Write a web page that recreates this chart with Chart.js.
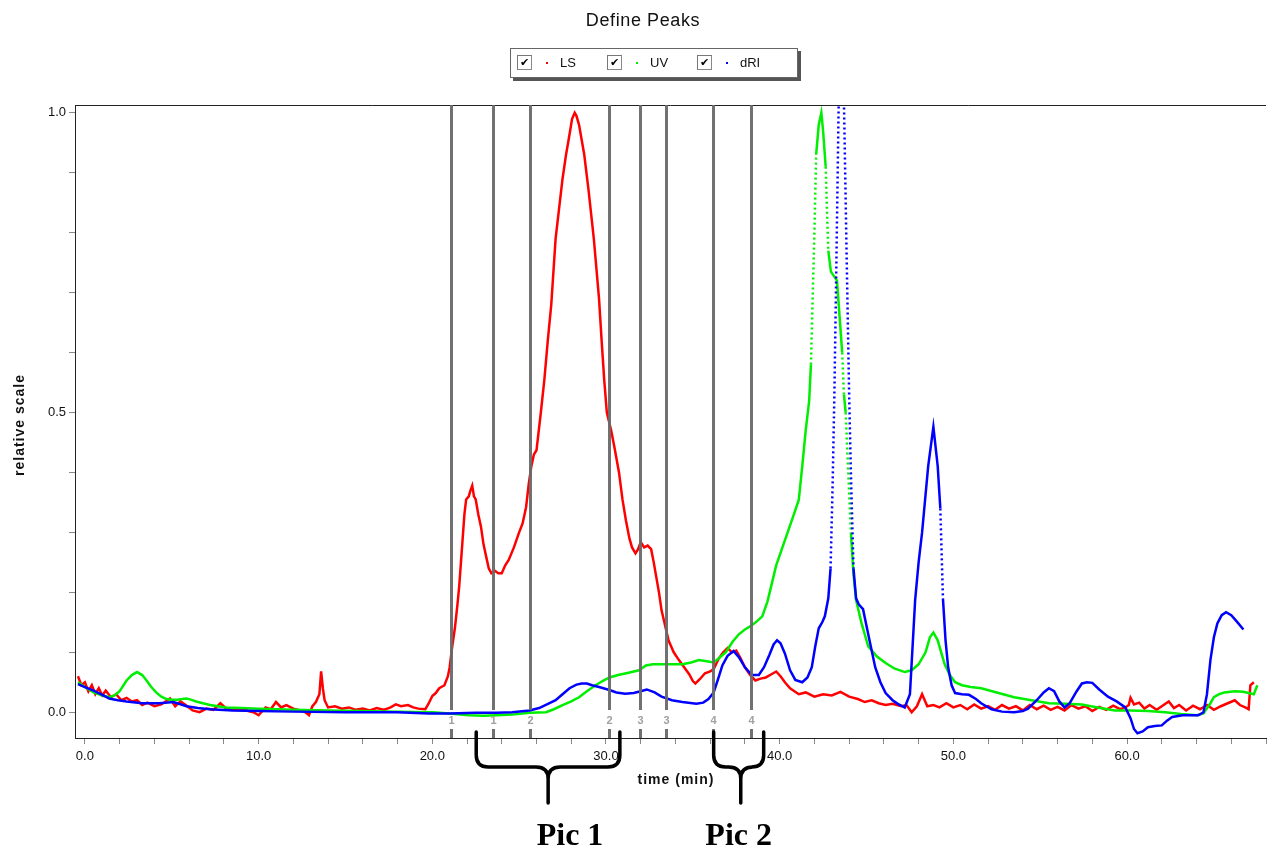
<!DOCTYPE html>
<html>
<head>
<meta charset="utf-8">
<script src="https://cdn.jsdelivr.net/npm/chart.js@4.4.1/dist/chart.umd.min.js"></script>
<style>
  body { margin: 0; background: #fff; }
  #wrap { position: relative; width: 1271px; height: 850px; }
  #title { position: absolute; left: 0; width: 1286px; top: 10px; text-align: center;
           font: 18px "Liberation Sans", Arial, sans-serif; letter-spacing: 0.6px; color: #111; }
  #legend { position: absolute; left: 510px; top: 48px; width: 286px; height: 28px;
            border: 1px solid #666; background: #fff; box-shadow: 3px 3px 0 #555;
            font: 13px "Liberation Sans", Arial, sans-serif; color: #111; }
  .item { position: absolute; top: 0; height: 28px; }
  .box { position: absolute; left: 0; top: 6px; width: 13px; height: 13px;
         border: 1px solid #888; border-top-color: #777; border-left-color: #777; background: #fff;
         font: bold 11px "DejaVu Sans"; line-height: 13px; text-align: center; color: #000; }
  .dot { position: absolute; left: 29px; top: 13px; width: 2px; height: 2px; }
  .lab { position: absolute; left: 43px; top: 6px; }
</style>
</head>
<body>
<div id="wrap">
  <canvas id="chart" width="1271" height="850"></canvas>
  <div id="title">Define Peaks</div>
  <div id="legend"></div>
</div>
<script>
// LS (light scattering), time in min
const lsTime = [-0.4,-0.2,0.0,0.2,0.4,0.6,0.8,1.0,1.2,1.5,1.8,2.1,2.4,2.7,3.0,3.3,3.6,4.0,4.4,4.9,5.2,5.5,5.8,6.2,6.6,7.0,7.4,7.8,8.1,8.5,9.0,9.4,9.7,10.0,10.4,10.7,11.0,11.3,11.6,12.0,12.4,12.7,12.9,13.1,13.3,13.5,13.6,13.7,13.8,14.0,14.4,14.8,15.2,15.6,16.0,16.4,16.8,17.2,17.6,17.9,18.2,18.6,18.9,19.2,19.6,19.8,20.0,20.2,20.4,20.7,20.9,21.0,21.15,21.3,21.45,21.55,21.65,21.75,21.85,21.95,22.1,22.2,22.3,22.4,22.5,22.65,22.8,22.95,23.1,23.25,23.4,23.6,23.8,24.0,24.2,24.4,24.7,25.0,25.2,25.4,25.55,25.7,25.85,26.0,26.25,26.45,26.65,26.85,27.1,27.3,27.5,27.7,27.85,28.05,28.2,28.3,28.45,28.6,28.75,29.0,29.15,29.3,29.45,29.6,29.75,29.9,30.05,30.3,30.5,30.75,30.95,31.15,31.35,31.5,31.7,31.85,32.0,32.2,32.4,32.6,32.75,32.9,33.05,33.2,33.4,33.6,33.9,34.2,34.5,34.8,35.0,35.15,35.4,35.7,36.0,36.2,36.5,36.75,37.0,37.25,37.5,37.75,38.0,38.3,38.6,38.9,39.2,39.5,39.8,40.05,40.3,40.6,41.1,41.5,42.0,42.5,43.0,43.5,44.0,44.5,44.9,45.3,45.7,46.1,46.5,47.0,47.3,47.6,47.9,48.2,48.5,48.85,49.2,49.6,50.0,50.4,50.8,51.2,51.6,52.0,52.4,52.8,53.2,53.6,54.0,54.4,54.8,55.2,55.6,56.0,56.4,56.8,57.2,57.6,58.0,58.4,58.8,59.2,59.6,59.9,60.1,60.2,60.4,60.7,61.0,61.3,61.7,62.0,62.4,62.7,63.0,63.4,63.8,64.2,64.6,65.0,65.4,65.8,66.2,66.5,66.8,67.0,67.1,67.3];
const lsValue = [0.06,0.045,0.05,0.035,0.045,0.03,0.04,0.028,0.036,0.025,0.03,0.02,0.024,0.018,0.02,0.012,0.016,0.01,0.013,0.023,0.01,0.018,0.012,0.003,0.0,0.006,0.004,0.015,0.007,0.004,0.006,0.002,0.0,-0.005,0.008,0.005,0.017,0.008,0.012,0.006,0.003,0.0,-0.005,0.01,0.017,0.03,0.068,0.04,0.02,0.008,0.01,0.006,0.008,0.004,0.006,0.003,0.007,0.004,0.008,0.013,0.01,0.012,0.008,0.006,0.005,0.015,0.027,0.032,0.04,0.045,0.06,0.075,0.11,0.14,0.18,0.21,0.25,0.29,0.33,0.355,0.36,0.37,0.378,0.36,0.355,0.33,0.31,0.28,0.26,0.24,0.232,0.236,0.232,0.232,0.245,0.254,0.275,0.3,0.315,0.342,0.38,0.41,0.43,0.437,0.5,0.554,0.62,0.68,0.79,0.84,0.89,0.93,0.955,0.99,1.0,0.995,0.98,0.955,0.93,0.87,0.83,0.79,0.74,0.69,0.62,0.554,0.5,0.47,0.44,0.4,0.355,0.32,0.29,0.275,0.265,0.272,0.284,0.275,0.278,0.272,0.25,0.225,0.2,0.17,0.145,0.12,0.1,0.087,0.075,0.063,0.052,0.048,0.055,0.065,0.068,0.072,0.09,0.1,0.107,0.1,0.103,0.09,0.075,0.062,0.053,0.056,0.058,0.063,0.068,0.06,0.05,0.04,0.03,0.033,0.026,0.03,0.028,0.034,0.026,0.022,0.017,0.02,0.015,0.012,0.014,0.01,0.012,0.0,0.01,0.03,0.01,0.012,0.008,0.015,0.008,0.012,0.005,0.013,0.006,0.01,0.004,0.012,0.006,0.01,0.003,0.012,0.005,0.011,0.004,0.009,0.003,0.012,0.006,0.01,0.002,0.009,0.004,0.011,0.005,0.008,0.012,0.024,0.013,0.016,0.006,0.012,0.004,0.01,0.018,0.007,0.012,0.003,0.011,0.005,0.012,0.004,0.01,0.015,0.02,0.012,0.008,0.005,0.045,0.05];

// UV
const uvTime = [-0.4,0.0,0.5,1.0,1.4,1.7,2.0,2.4,2.7,3.0,3.3,3.55,3.8,4.1,4.4,4.7,5.0,5.3,5.6,5.85,6.1,6.4,6.8,7.2,8.1,9.0,10.0,12.0,14.0,15.8,18.0,20.0,21.0,22.1,23.0,23.7,24.6,25.6,26.55,27.0,27.5,28.0,28.45,28.9,29.4,29.8,30.2,30.7,31.3,31.9,32.3,32.7,33.2,33.8,34.4,34.9,35.35,35.8,36.2,36.5,36.9,37.3,37.65,38.0,38.4,38.7,39.0,39.3,39.55,39.8,40.1,40.4,40.7,41.1,41.3,41.5,41.7,41.8,41.9,42.0,42.1,42.25,42.4,42.5,42.65,42.72,42.8,42.95,43.3,43.45,43.6,43.7,43.8,43.95,44.1,44.25,44.4,44.7,45.1,45.6,46.1,46.6,47.2,47.6,48.0,48.4,48.65,48.85,49.1,49.3,49.5,49.8,50.1,50.5,51.0,51.6,52.5,53.5,54.5,55.5,56.5,57.4,58.3,59.3,60.2,61.2,62.2,63.1,64.0,64.4,64.8,65.0,65.3,65.6,66.2,66.7,67.0,67.3,67.5];
const uvValue = [0.05,0.042,0.033,0.028,0.025,0.028,0.035,0.053,0.062,0.067,0.062,0.053,0.043,0.033,0.026,0.022,0.021,0.021,0.022,0.023,0.021,0.018,0.015,0.012,0.008,0.007,0.006,0.004,0.003,0.002,0.001,0.0,-0.002,-0.005,-0.006,-0.005,-0.004,-0.001,0.0,0.005,0.012,0.018,0.025,0.035,0.045,0.052,0.058,0.062,0.066,0.07,0.078,0.08,0.08,0.08,0.08,0.083,0.087,0.085,0.083,0.09,0.1,0.118,0.13,0.138,0.145,0.152,0.16,0.185,0.215,0.245,0.27,0.295,0.32,0.354,0.41,0.47,0.52,0.58,0.69,0.8,0.93,0.98,1.0,0.97,0.91,0.84,0.77,0.735,0.72,0.66,0.6,0.53,0.5,0.4,0.3,0.23,0.187,0.15,0.11,0.093,0.082,0.073,0.067,0.07,0.08,0.1,0.125,0.133,0.12,0.1,0.08,0.062,0.05,0.045,0.042,0.04,0.033,0.025,0.02,0.015,0.014,0.013,0.008,0.003,0.003,0.002,0.0,-0.003,-0.005,-0.002,0.015,0.025,0.03,0.033,0.035,0.034,0.032,0.03,0.045];

// dRI
const riTime = [-0.4,0.0,0.5,1.0,1.4,1.9,2.4,3.3,4.3,5.1,5.85,6.5,7.2,8.5,10.0,12.0,15.0,18.0,19.8,21.0,22.5,23.7,24.6,25.6,26.15,26.6,27.1,27.5,27.9,28.3,28.6,28.9,29.2,29.6,30.2,30.6,31.1,31.6,32.0,32.35,32.8,33.2,33.8,34.4,35.2,35.6,35.9,36.2,36.45,36.7,37.0,37.35,37.65,38.0,38.4,38.8,39.1,39.4,39.65,39.85,40.05,40.3,40.6,40.9,41.3,41.6,41.85,42.05,42.25,42.45,42.6,42.8,42.93,43.05,43.15,43.25,43.4,43.55,43.7,43.85,44.0,44.1,44.25,44.4,44.55,44.8,45.1,45.5,45.8,46.1,46.5,46.8,47.2,47.5,47.8,48.0,48.2,48.55,48.85,49.1,49.25,49.4,49.55,49.7,49.9,50.1,50.5,50.9,51.3,51.6,52.2,52.8,53.5,54.0,54.3,54.8,55.2,55.5,55.8,56.1,56.4,56.7,57.1,57.4,57.7,58.0,58.4,58.9,59.4,59.9,60.2,60.4,60.6,60.9,61.2,61.6,62.0,62.3,62.6,63.2,64.1,64.4,64.6,64.8,65.0,65.2,65.45,65.7,66.0,66.3,66.7];
const riValue = [0.047,0.042,0.036,0.029,0.023,0.02,0.018,0.015,0.015,0.017,0.01,0.007,0.005,0.003,0.002,0.001,0.0,0.0,-0.002,-0.002,-0.001,-0.001,0.0,0.003,0.007,0.013,0.02,0.03,0.04,0.046,0.048,0.048,0.045,0.042,0.037,0.033,0.031,0.032,0.035,0.038,0.033,0.026,0.02,0.017,0.014,0.016,0.022,0.033,0.055,0.078,0.094,0.102,0.092,0.075,0.062,0.062,0.075,0.095,0.113,0.12,0.115,0.098,0.07,0.054,0.05,0.058,0.075,0.11,0.14,0.15,0.16,0.19,0.24,0.38,0.53,0.72,1.02,1.3,1.02,0.77,0.53,0.4,0.24,0.19,0.18,0.172,0.13,0.075,0.05,0.032,0.02,0.014,0.008,0.03,0.187,0.25,0.3,0.41,0.476,0.41,0.34,0.19,0.12,0.075,0.045,0.032,0.03,0.029,0.022,0.015,0.005,0.001,0.0,0.002,0.006,0.02,0.033,0.04,0.035,0.018,0.008,0.015,0.035,0.048,0.05,0.049,0.038,0.026,0.018,0.008,-0.01,-0.028,-0.035,-0.032,-0.025,-0.023,-0.022,-0.014,-0.008,-0.005,-0.005,0.0,0.03,0.087,0.125,0.148,0.162,0.167,0.162,0.152,0.138];

// peak limits (min) and their peak numbers
const peakTimes = [21.09, 23.51, 25.63, 30.17, 31.95, 33.45, 36.15, 38.33];
const peakLabels = ["1", "1", "2", "2", "3", "3", "4", "4"];

// hand drawn braces under the axis: [start, tip, end, label position]
const picNames = ["Pic 1", "Pic 2"];
const picRanges = [[22.53, 26.67, 30.8, 27.93], [36.2, 37.76, 39.08, 37.64]];

const xTicks = [0,2,4,6,8,10,12,14,16,18,20,22,24,26,28,30,32,34,36,38,40,42,44,46,48,50,52,54,56,58,60,62,64,66,68];
const yTicks = [0,0.1,0.2,0.3,0.4,0.5,0.6,0.7,0.8,0.9,1.0];

const pts = (t, v) => t.map((x, i) => ({ x: x, y: v[i] }));

// steep parts look dotted in the original (sparse samples)
const steep = ctx => Math.abs(ctx.p1.y - ctx.p0.y) > 22 * Math.abs(ctx.p1.x - ctx.p0.x) ? [2, 3] : undefined;

const overlay = {
  id: "overlay",
  afterDatasetsDraw(chart) {
    const c = chart.ctx, a = chart.chartArea, xs = chart.scales.x;
    c.save();
    // top frame
    c.strokeStyle = "#222"; c.lineWidth = 1;
    c.beginPath(); c.moveTo(a.left, a.top + 0.5); c.lineTo(a.right, a.top + 0.5); c.stroke();
    // peak limit lines
    c.strokeStyle = "rgba(105,105,105,0.95)"; c.lineWidth = 3;
    c.font = "bold 11px 'Liberation Sans', Arial";
    c.textAlign = "center"; c.textBaseline = "middle";
    peakTimes.forEach((t, i) => {
      const px = Math.round(xs.getPixelForValue(t)) + 0.5;
      c.beginPath();
      c.moveTo(px, a.top); c.lineTo(px, a.bottom - 28);
      c.moveTo(px, a.bottom - 9); c.lineTo(px, a.bottom);
      c.stroke();
      c.fillStyle = "#a0a0a0";
      c.fillText(peakLabels[i], px, a.bottom - 17);
    });
    c.restore();
  },
  afterDraw(chart) {
    const c = chart.ctx, a = chart.chartArea, xs = chart.scales.x;
    c.save();
    // axis titles
    c.fillStyle = "#111";
    c.font = "bold 14px 'Liberation Sans', Arial";
    c.letterSpacing = "1px";
    c.textAlign = "center"; c.textBaseline = "middle";
    c.fillText("time (min)", 676, 780);
    c.translate(20, 425); c.rotate(-Math.PI / 2);
    c.fillText("relative scale", 0, 0);
    c.restore();

    // braces
    c.save();
    c.strokeStyle = "#000"; c.lineWidth = 3.5; c.lineCap = "round"; c.lineJoin = "round";
    const top = a.bottom - 6, mid = a.bottom + 29, tipY = a.bottom + 65, r = 12;
    picRanges.forEach((p, i) => {
      const l = xs.getPixelForValue(p[0]), m = xs.getPixelForValue(p[1]), e = xs.getPixelForValue(p[2]);
      c.beginPath();
      c.moveTo(l, top); c.lineTo(l, mid - r);
      c.quadraticCurveTo(l, mid, l + r, mid);
      c.lineTo(m - r, mid);
      c.quadraticCurveTo(m, mid, m, mid + r);
      c.lineTo(m, tipY);
      c.moveTo(m, mid + r);
      c.quadraticCurveTo(m, mid, m + r, mid);
      c.lineTo(e - r, mid);
      c.quadraticCurveTo(e, mid, e, mid - r);
      c.lineTo(e, top);
      c.stroke();
      c.fillStyle = "#000";
      c.font = "bold 32px 'Liberation Serif', 'Times New Roman', serif";
      c.textAlign = "center"; c.textBaseline = "alphabetic";
      c.fillText(picNames[i], xs.getPixelForValue(p[3]), 845);
    });
    c.restore();
  }
};

const chart = new Chart(document.getElementById("chart"), {
  type: "line",
  data: {
    datasets: [{
      label: "LS", data: pts(lsTime, lsValue), borderColor: "#ff0000", order: 3
    }, {
      label: "UV", data: pts(uvTime, uvValue), borderColor: "#00ee00", order: 2
    }, {
      label: "dRI", data: pts(riTime, riValue), borderColor: "#0000ff", order: 1
    }]
  },
  options: {
    responsive: false,
    animation: false,
    parsing: false,
    layout: { padding: { top: 105, right: 3, left: 0, bottom: 0 } },
    elements: {
      point: { radius: 0 },
      line: { borderWidth: 2.5, tension: 0, fill: false }
    },
    datasets: { line: { segment: { borderDash: steep } } },
    plugins: { legend: { display: false }, tooltip: { enabled: false } },
    scales: {
      x: {
        type: "linear", min: -0.57, max: 68.0,
        afterBuildTicks: s => { s.ticks = xTicks.map(v => ({ value: v })); },
        afterFit: s => { s.height = 112; },
        ticks: {
          autoSkip: false, maxRotation: 0, padding: 5, color: "#111",
          font: { family: "'Liberation Sans', Arial", size: 13 },
          callback: v => (v % 10 === 0 ? v.toFixed(1) : "")
        },
        grid: { drawOnChartArea: false, drawTicks: true, tickLength: 6, color: "#888" },
        border: { color: "#222", width: 1 }
      },
      y: {
        min: -0.043, max: 1.013,
        afterBuildTicks: s => { s.ticks = yTicks.map(v => ({ value: v })); },
        afterFit: s => { s.width = 75; },
        ticks: {
          autoSkip: false, padding: 3, color: "#111",
          font: { family: "'Liberation Sans', Arial", size: 13 },
          callback: v => (Math.abs(v * 2 - Math.round(v * 2)) < 1e-6 ? v.toFixed(1) : "")
        },
        grid: { drawOnChartArea: false, drawTicks: true, tickLength: 6, color: "#888" },
        border: { color: "#222", width: 1 }
      }
    }
  },
  plugins: [overlay]
});

// legend like the original: checkbox, small coloured dot, name
const legend = document.getElementById("legend");
chart.data.datasets.forEach((ds, i) => {
  const item = document.createElement("div");
  item.className = "item";
  item.style.left = (6 + i * 90) + "px";
  item.innerHTML = '<div class="box">\u2714</div><div class="dot" style="background:' +
    ds.borderColor + '"></div><div class="lab">' + ds.label + '</div>';
  legend.appendChild(item);
});
</script>
</body>
</html>
